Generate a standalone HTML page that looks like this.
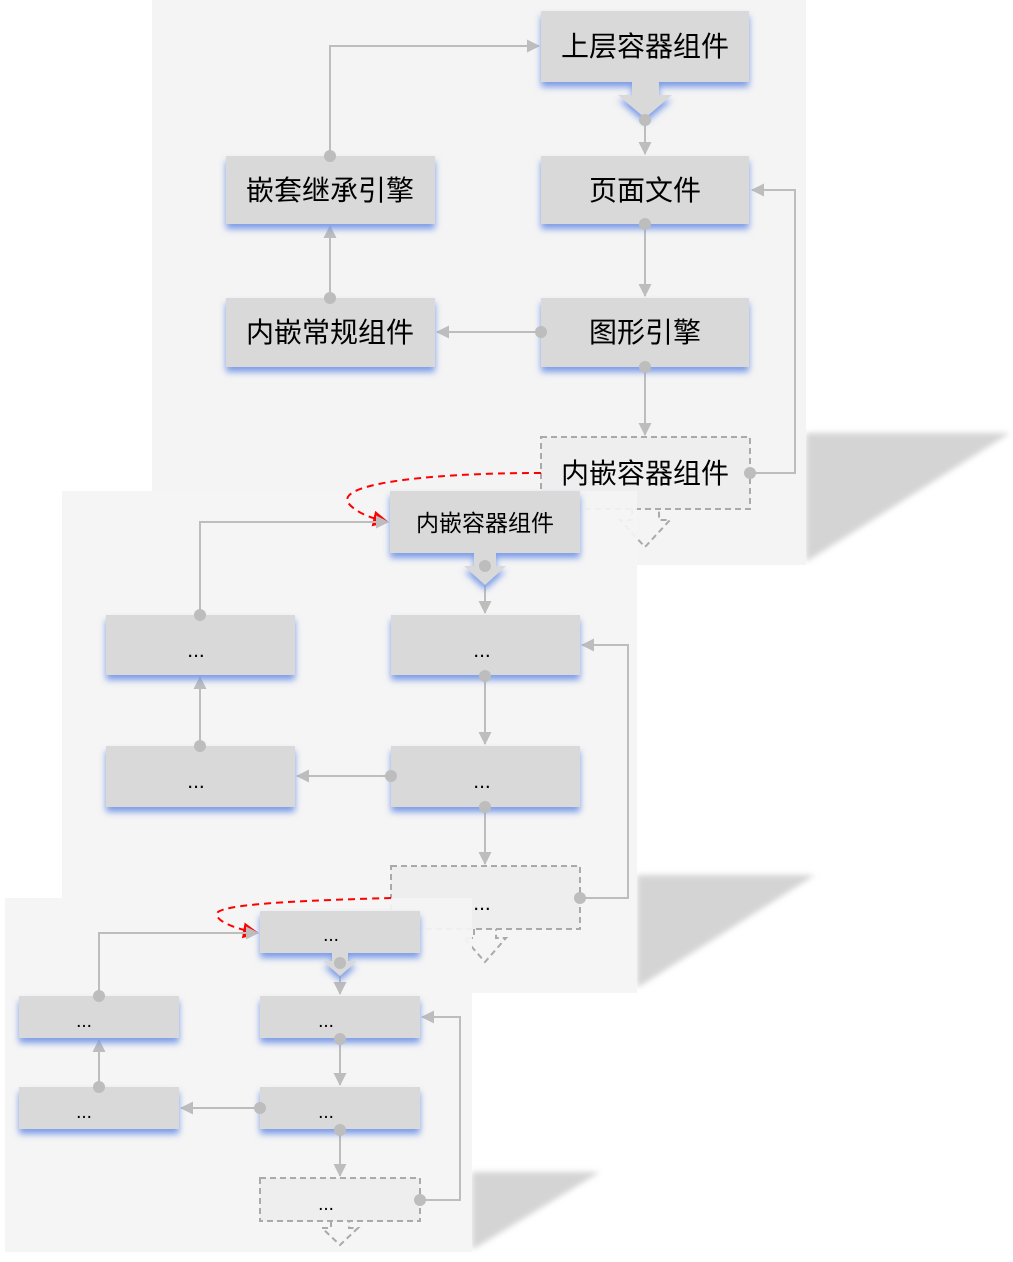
<!DOCTYPE html>
<html><head><meta charset="utf-8"><style>
html,body{margin:0;padding:0;background:#fff;}
svg{display:block;}
text{font-family:"Liberation Sans","Noto Sans CJK SC",sans-serif;fill:#000;}
</style></head><body>
<svg width="1013" height="1262" viewBox="0 0 1013 1262" xmlns="http://www.w3.org/2000/svg">
<defs>
<filter id="bs" x="-10%" y="-20%" width="120%" height="160%">
<feDropShadow dx="0" dy="5" stdDeviation="3.5" flood-color="#7596e6" flood-opacity="0.95"/>
</filter>
<filter id="blur" x="-20%" y="-20%" width="140%" height="140%"><feGaussianBlur stdDeviation="3"/></filter>
<marker id="ah" markerWidth="13" markerHeight="13" refX="12" refY="6.5" orient="auto" markerUnits="userSpaceOnUse">
<path d="M0,0 L13,6.5 L0,13 z" fill="#bdbdbd"/></marker>
<marker id="ar" markerWidth="16" markerHeight="16" refX="15" refY="8" orient="auto" markerUnits="userSpaceOnUse">
<path d="M0,0 L16,8 L0,16 z" fill="#f00"/></marker>
</defs>

<!-- PANEL 1 -->
<polygon points="806,433 1010,433 806,562" fill="#d4d4d4" filter="url(#blur)"/>
<rect x="152" y="0" width="654" height="565" fill="#f4f4f4"/>
<g stroke="#bdbdbd" stroke-width="2" fill="none">
<polyline points="330,156 330,46 539,46" marker-end="url(#ah)"/>
<line x1="645" y1="120" x2="645" y2="154" marker-end="url(#ah)"/>
<line x1="645" y1="224" x2="645" y2="296" marker-end="url(#ah)"/>
<line x1="541" y1="332" x2="437" y2="332" marker-end="url(#ah)"/>
<line x1="330" y1="298" x2="330" y2="226" marker-end="url(#ah)"/>
<line x1="645" y1="367" x2="645" y2="435" marker-end="url(#ah)"/>
<polyline points="750,473 795,473 795,190 752,190" marker-end="url(#ah)"/>
</g>
<g filter="url(#bs)">
<rect x="541" y="11" width="208" height="71" fill="#d9d9d9"/>
<polygon points="632,82 659,82 659,95 672,95 645,118 618,95 632,95" fill="#d9d9d9"/>
<rect x="541" y="156" width="208" height="68" fill="#d9d9d9"/>
<rect x="541" y="298" width="208" height="69" fill="#d9d9d9"/>
<rect x="226" y="156" width="209" height="68" fill="#d9d9d9"/>
<rect x="226" y="298" width="209" height="69" fill="#d9d9d9"/>
</g>
<rect x="541" y="437" width="209" height="72" fill="#eeeeef" stroke="#aaa" stroke-width="2" stroke-dasharray="6,4"/>
<polyline points="632,509 632,520 620,520 645,547 670,520 659,520 659,509" fill="none" stroke="#aaa" stroke-width="2" stroke-dasharray="6,4"/>
<g fill="#bdbdbd">
<circle cx="645" cy="120" r="6"/><circle cx="645" cy="224" r="6"/><circle cx="645" cy="367" r="6"/>
<circle cx="541" cy="332" r="6"/><circle cx="330" cy="156" r="6"/><circle cx="330" cy="298" r="6"/><circle cx="750" cy="473" r="6"/>
</g>
<g font-size="28" text-anchor="middle">
<text x="645" y="56">上层容器组件</text>
<text x="645" y="200">页面文件</text>
<text x="645" y="342">图形引擎</text>
<text x="330" y="200">嵌套继承引擎</text>
<text x="330" y="342">内嵌常规组件</text>
<text x="645" y="483">内嵌容器组件</text>
</g>

<!-- PANEL 2 -->
<polygon points="637,875 815,875 637,988" fill="#d4d4d4" filter="url(#blur)"/>
<rect x="62" y="491" width="575" height="502" fill="#f4f4f4" fill-opacity="0.93"/>
<path d="M541,473 C420,473 330,485 350,505 C360,515 375,519 388,522" fill="none" stroke="#f00" stroke-width="2" stroke-dasharray="7,5" marker-end="url(#ar)"/>
<g stroke="#bdbdbd" stroke-width="2" fill="none">
<polyline points="200,615 200,522 388,522" marker-end="url(#ah)"/>
<line x1="485" y1="566" x2="485" y2="613" marker-end="url(#ah)"/>
<line x1="485" y1="676" x2="485" y2="744" marker-end="url(#ah)"/>
<line x1="391" y1="776" x2="297" y2="776" marker-end="url(#ah)"/>
<line x1="200" y1="746" x2="200" y2="677" marker-end="url(#ah)"/>
<line x1="485" y1="807" x2="485" y2="864" marker-end="url(#ah)"/>
<polyline points="580,898 628,898 628,645 582,645" marker-end="url(#ah)"/>
</g>
<g filter="url(#bs)">
<rect x="390" y="491" width="190" height="62" fill="#d9d9d9"/>
<polygon points="474,553 496,553 496,566 506,566 485,585 464,566 474,566" fill="#d9d9d9"/>
<rect x="391" y="615" width="189" height="60" fill="#d9d9d9"/>
<rect x="391" y="746" width="189" height="61" fill="#d9d9d9"/>
<rect x="106" y="615" width="189" height="60" fill="#d9d9d9"/>
<rect x="106" y="746" width="189" height="61" fill="#d9d9d9"/>
</g>
<rect x="391" y="866" width="189" height="63" fill="#eeeeef" stroke="#aaa" stroke-width="2" stroke-dasharray="6,4"/>
<polyline points="474,929 474,938 464,938 485,962 506,938 496,938 496,929" fill="none" stroke="#aaa" stroke-width="2" stroke-dasharray="6,4"/>
<g fill="#bdbdbd">
<circle cx="485" cy="566" r="6"/><circle cx="485" cy="676" r="6"/><circle cx="485" cy="807" r="6"/>
<circle cx="391" cy="776" r="6"/><circle cx="200" cy="615" r="6"/><circle cx="200" cy="746" r="6"/><circle cx="580" cy="898" r="6"/>
</g>
<g font-size="23" text-anchor="middle">
<text x="485" y="531">内嵌容器组件</text>
</g>
<g font-size="21" text-anchor="middle">
<text x="482" y="657">...</text>
<text x="482" y="788">...</text>
<text x="196" y="657">...</text>
<text x="196" y="788">...</text>
<text x="482" y="910">...</text>
</g>

<!-- PANEL 3 -->
<polygon points="472,1172 600,1172 472,1250" fill="#d4d4d4" filter="url(#blur)"/>
<rect x="5" y="898" width="467" height="354" fill="#f4f4f4" fill-opacity="0.93"/>
<path d="M391,898 C320,900 230,903 218,912 C212,920 235,929 258,933" fill="none" stroke="#f00" stroke-width="2" stroke-dasharray="7,5" marker-end="url(#ar)"/>
<g stroke="#bdbdbd" stroke-width="2" fill="none">
<polyline points="99,996 99,933 258,933" marker-end="url(#ah)"/>
<line x1="340" y1="963" x2="340" y2="994" marker-end="url(#ah)"/>
<line x1="340" y1="1039" x2="340" y2="1085" marker-end="url(#ah)"/>
<line x1="260" y1="1108" x2="181" y2="1108" marker-end="url(#ah)"/>
<line x1="99" y1="1087" x2="99" y2="1040" marker-end="url(#ah)"/>
<line x1="340" y1="1130" x2="340" y2="1176" marker-end="url(#ah)"/>
<polyline points="420,1200 460,1200 460,1017 422,1017" marker-end="url(#ah)"/>
</g>
<g filter="url(#bs)">
<rect x="260" y="911" width="160" height="42" fill="#d9d9d9"/>
<polygon points="332,953 348,953 348,961 357,961 340,976 323,961 332,961" fill="#d9d9d9"/>
<rect x="260" y="996" width="160" height="42" fill="#d9d9d9"/>
<rect x="260" y="1087" width="160" height="42" fill="#d9d9d9"/>
<rect x="19" y="996" width="160" height="42" fill="#d9d9d9"/>
<rect x="19" y="1087" width="160" height="42" fill="#d9d9d9"/>
</g>
<rect x="260" y="1178" width="160" height="43" fill="#eeeeef" stroke="#aaa" stroke-width="2" stroke-dasharray="6,4"/>
<polyline points="331,1221 331,1228 322,1228 340,1245 358,1228 349,1228 349,1221" fill="none" stroke="#aaa" stroke-width="2" stroke-dasharray="6,4"/>
<g fill="#bdbdbd">
<circle cx="340" cy="963" r="6"/><circle cx="340" cy="1039" r="6"/><circle cx="340" cy="1130" r="6"/>
<circle cx="260" cy="1108" r="6"/><circle cx="99" cy="996" r="6"/><circle cx="99" cy="1087" r="6"/><circle cx="420" cy="1200" r="6"/>
</g>
<g font-size="19" text-anchor="middle">
<text x="331" y="941">...</text>
<text x="326" y="1027">...</text>
<text x="326" y="1118">...</text>
<text x="84" y="1027">...</text>
<text x="84" y="1118">...</text>
<text x="326" y="1210">...</text>
</g>
</svg>
</body></html>
